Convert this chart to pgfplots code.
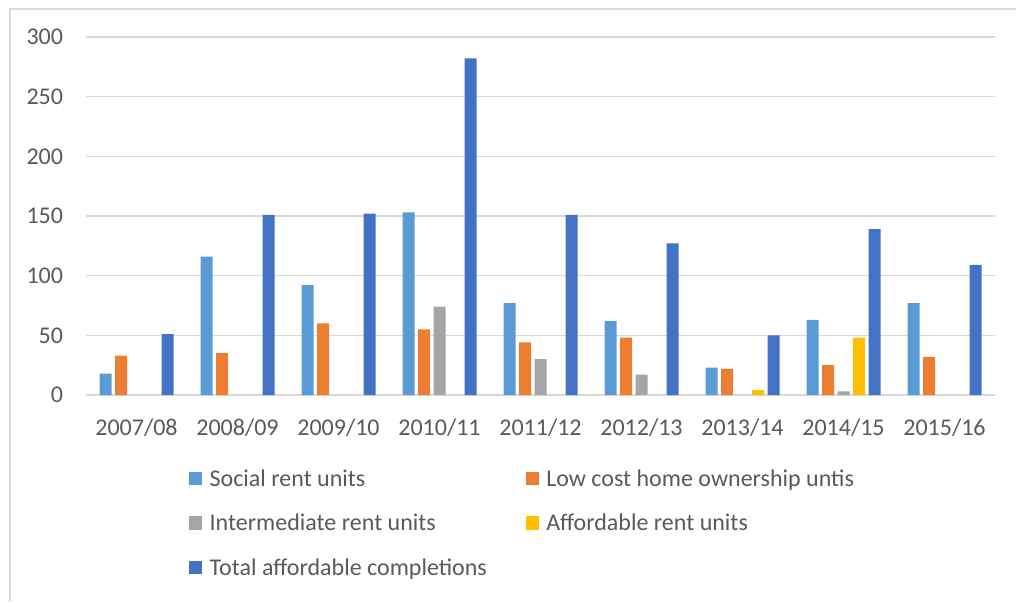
\documentclass[border=0pt]{standalone}
\usepackage{pgfplots}
\pgfplotsset{compat=1.18}
\usepackage{fontspec}
\setmainfont{Carlito}
\definecolor{cSoc}{HTML}{5B9BD5}
\definecolor{cLow}{HTML}{ED7D31}
\definecolor{cInt}{HTML}{A5A5A5}
\definecolor{cAff}{HTML}{FFC000}
\definecolor{cTot}{HTML}{4472C4}
\definecolor{cText}{HTML}{595959}
\definecolor{cGrid}{HTML}{D9D9D9}
\begin{document}
\begin{tikzpicture}
\path[use as bounding box] (0pt,0pt) rectangle (762pt,450.75pt);
\draw[cGrid, line width=1.1pt] (7.5pt,0pt) -- (7.5pt,444pt) -- (762pt,444pt);
\begin{axis}[
  at={(64.5pt,154.5pt)}, anchor=south west,
  scale only axis, width=681.75pt, height=268.5pt,
  ybar, bar width=9pt,
  xmin=-0.5, xmax=8.5, ymin=0, ymax=300,
  enlargelimits=false,
  xtick={0,...,8},
  xticklabels={2007/08,2008/09,2009/10,2010/11,2011/12,2012/13,2013/14,2014/15,2015/16},
  ytick={0,50,...,300},
  ymajorgrids, grid style={cGrid, line width=1pt},
  axis line style={draw=none},
  major tick length=0pt,
  /pgf/number format/assume math mode=true,
  tick label style={font=\fontsize{18}{21}\selectfont, text=cText},
  yticklabel style={inner sep=0pt, anchor=east, xshift=-17pt},
  xticklabel style={inner sep=0pt, anchor=north, yshift=-17.5pt},
  legend style={draw=none, fill=none, at={(0.113,-0.2)}, anchor=north west,
    font=\fontsize{18}{21}\selectfont, text=cText, inner sep=0pt,
    nodes={inner sep=2pt},
    /tikz/every odd column/.append style={column sep=3.5pt},
    /tikz/every even column/.append style={column sep=27pt},
    row sep=15.5pt},
  legend columns=2, legend cell align=left,
]
\addplot[fill=cSoc, draw=none, bar shift=-23.25pt, legend image code/.code={\fill[cSoc] (0pt,-4.5pt) rectangle (10pt,5.5pt);}]
  coordinates {(0,18) (1,116) (2,92) (3,153) (4,77) (5,62) (6,23) (7,63) (8,77)};
\addplot[fill=cLow, draw=none, bar shift=-11.625pt, legend image code/.code={\fill[cLow] (0pt,-4.5pt) rectangle (10pt,5.5pt);}]
  coordinates {(0,33) (1,35) (2,60) (3,55) (4,44) (5,48) (6,22) (7,25) (8,32)};
\addplot[fill=cInt, draw=none, bar shift=0pt, legend image code/.code={\fill[cInt] (0pt,-4.5pt) rectangle (10pt,5.5pt);}]
  coordinates {(0,0) (1,0) (2,0) (3,74) (4,30) (5,17) (6,0) (7,3) (8,0)};
\addplot[fill=cAff, draw=none, bar shift=11.625pt, legend image code/.code={\fill[cAff] (0pt,-4.5pt) rectangle (10pt,5.5pt);}]
  coordinates {(0,0) (1,0) (2,0) (3,0) (4,0) (5,0) (6,4) (7,48) (8,0)};
\addplot[fill=cTot, draw=none, bar shift=23.25pt, legend image code/.code={\fill[cTot] (0pt,-4.5pt) rectangle (10pt,5.5pt);}]
  coordinates {(0,51) (1,151) (2,152) (3,282) (4,151) (5,127) (6,50) (7,139) (8,109)};
\legend{Social rent units, Low cost home ownership untis, Intermediate rent units, Affordable rent units, Total affordable completions}
\end{axis}
\end{tikzpicture}
\end{document}
